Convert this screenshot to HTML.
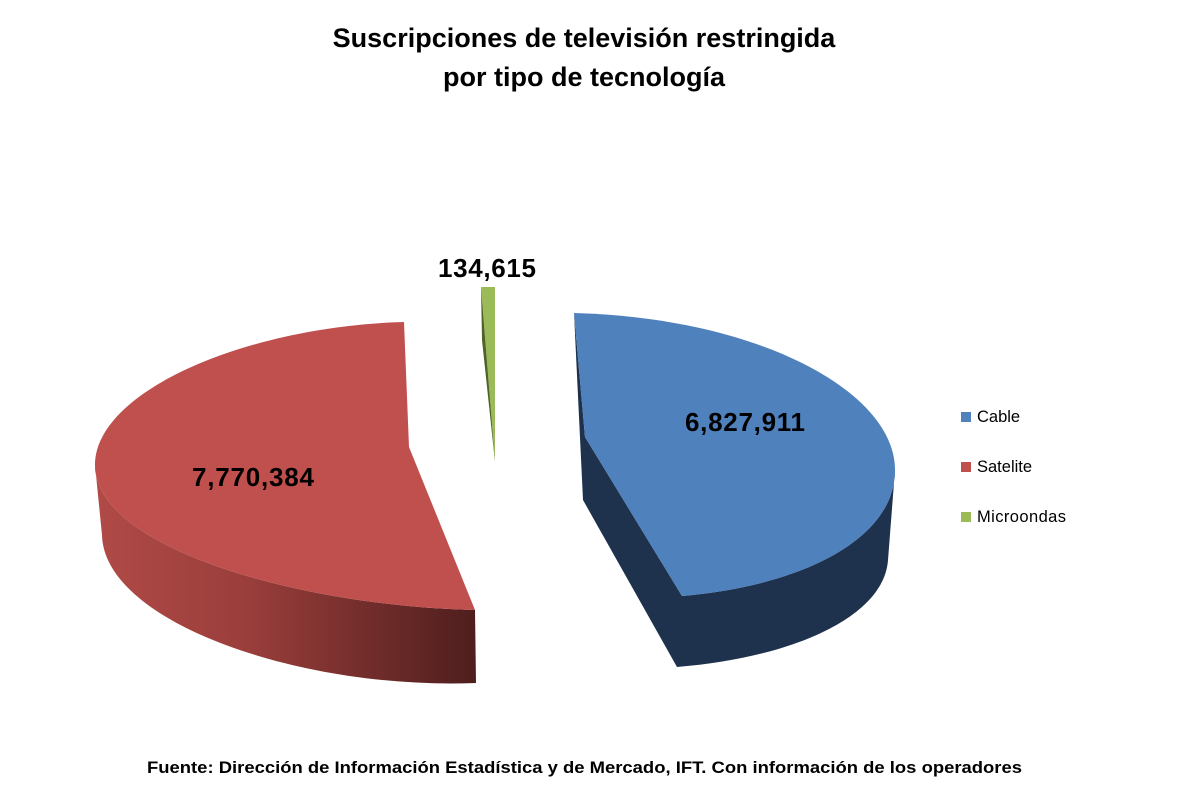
<!DOCTYPE html>
<html><head><meta charset="utf-8"><style>
body{margin:0;background:#fff;width:1189px;height:804px;overflow:hidden;font-family:"Liberation Sans","DejaVu Sans",sans-serif}
</style></head><body>
<svg width="1189" height="804" xmlns="http://www.w3.org/2000/svg">
<defs>
<linearGradient id="rg" x1="95" y1="0" x2="476" y2="0" gradientUnits="userSpaceOnUse">
<stop offset="0" stop-color="#b04a47"/><stop offset="0.4" stop-color="#9a3e3b"/><stop offset="1" stop-color="#4e1e1d"/></linearGradient>
</defs>
<text x="584" y="47" text-anchor="middle" font-size="27" font-weight="bold" fill="#000">Suscripciones de televisión restringida</text>
<text x="584" y="86" text-anchor="middle" font-size="27" font-weight="bold" fill="#000">por tipo de tecnología</text>
<path d="M95,465 C95,548 300,606 475,610 L476,683 C300,690 104,622 102,535 Z" fill="url(#rg)"/>
<path d="M404,322 C250,326 95,390 95,465 C95,548 300,606 475,610 L409,447 Z" fill="#c0504d"/>
<path d="M574,313 L583,500 L677,667 C790,658 884,618 888,560 L895,470 C895,540 800,586 682,596 L585,437 Z" fill="#1f324d"/>
<path d="M574,313 C760,318 895,392 895,470 C895,540 800,586 682,596 L585,437 Z" fill="#4f81bd"/>
<polygon points="481,287 495,287 495,462" fill="#9bbb59"/>
<polygon points="481,287 482,340 495,462" fill="#4f6228"/>
<text x="487" y="277" text-anchor="middle" font-size="26" font-weight="bold" textLength="98">134,615</text>
<text x="745" y="431" text-anchor="middle" font-size="26" font-weight="bold" textLength="120">6,827,911</text>
<text x="253" y="486" text-anchor="middle" font-size="26" font-weight="bold" textLength="122">7,770,384</text>
<rect x="961" y="412" width="10" height="10" fill="#4f81bd"/>
<text x="977" y="422" font-size="16.5">Cable</text>
<rect x="961" y="462" width="10" height="10" fill="#c0504d"/>
<text x="977" y="472" font-size="16.5">Satelite</text>
<rect x="961" y="512" width="10" height="10" fill="#9bbb59"/>
<text x="977" y="522" font-size="16.5" textLength="89">Microondas</text>
<text x="147" y="773" font-size="17" font-weight="bold" textLength="875" lengthAdjust="spacingAndGlyphs">Fuente: Dirección de Información Estadística y de Mercado, IFT. Con información de los operadores</text>
</svg>
</body></html>
